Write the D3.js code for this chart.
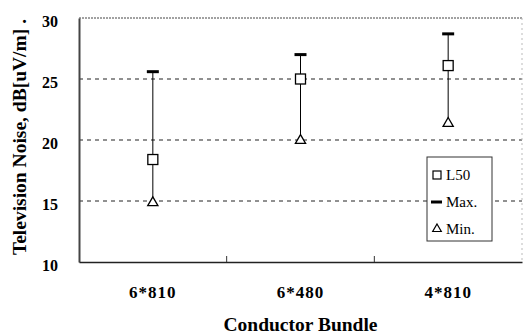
<!DOCTYPE html>
<html><head><meta charset="utf-8">
<script src="https://cdn.jsdelivr.net/npm/d3@7"></script>
<style>body{margin:0;background:#fff}svg{display:block}</style>
</head><body>
<script>
const categories = ["6*810", "6*480", "4*810"];
const l50Values = [18.4, 25.0, 26.1];
const maxValues = [25.6, 27.0, 28.7];
const minValues = [14.9, 20.0, 21.4];
const yTicks = [10, 15, 20, 25, 30];
const legendLabels = ["L50", "Max.", "Min."];

const W = 523, H = 335;
const m = {left: 79, right: 522, top: 18, bottom: 262};
const svg = d3.select("body").append("svg").attr("width", W).attr("height", H);
const serif = "'Liberation Serif','Times New Roman',serif";

const x = d3.scaleBand().domain(categories).range([m.left, m.right]);
const y = d3.scaleLinear().domain([10, 30]).range([m.bottom, m.top]);

// grid lines
svg.append("g").selectAll("line").data([15, 20, 25]).join("line")
  .attr("x1", m.left).attr("x2", m.right)
  .attr("y1", d => y(d)).attr("y2", d => y(d))
  .attr("stroke", "#222").attr("stroke-width", 1).attr("stroke-dasharray", "4,4");
// top and right borders (dotted)
svg.append("line").attr("x1", m.left).attr("x2", m.right).attr("y1", y(30)).attr("y2", y(30))
  .attr("stroke", "#444").attr("stroke-dasharray", "2,1");
svg.append("line").attr("x1", m.right).attr("x2", m.right).attr("y1", m.top).attr("y2", m.bottom)
  .attr("stroke", "#bbb").attr("stroke-dasharray", "2,3");

// y axis
const yAxis = svg.append("g").attr("transform", `translate(${m.left},0)`)
  .call(d3.axisLeft(y).tickValues(yTicks).tickSize(0).tickPadding(21));
yAxis.select(".domain").attr("stroke", "#444").attr("stroke-width", 2);
yAxis.selectAll("text").attr("font-family", serif).attr("font-weight", "bold")
  .attr("font-size", 16).attr("fill", "#000").attr("dy", "0.5em");

// x axis
const xAxis = svg.append("g").attr("transform", `translate(0,${m.bottom})`)
  .call(d3.axisBottom(x).tickSize(0).tickPadding(24));
xAxis.select(".domain").attr("stroke", "#222").attr("stroke-width", 1.5);
xAxis.selectAll("text").attr("font-family", serif).attr("font-weight", "bold")
  .attr("font-size", 17).attr("fill", "#000").attr("letter-spacing", "1px");
// inner ticks at band boundaries
svg.append("g").selectAll("line").data(categories.slice(1)).join("line")
  .attr("x1", d => x(d)).attr("x2", d => x(d))
  .attr("y1", m.bottom).attr("y2", m.bottom - 6)
  .attr("stroke", "#333").attr("stroke-width", 1);

// axis titles
svg.append("text").attr("x", x(categories[1]) + x.bandwidth() / 2).attr("y", 331)
  .attr("text-anchor", "middle").attr("font-family", serif).attr("font-weight", "bold")
  .attr("font-size", 19.5).text("Conductor Bundle");
svg.append("text").attr("transform", `translate(26,${137}) rotate(-90)`)
  .attr("text-anchor", "middle").attr("font-family", serif).attr("font-weight", "bold")
  .attr("font-size", 19.5).text("Television Noise, dB[uV/m] .");

const cx = i => x(categories[i]) + x.bandwidth() / 2;
const idx = categories.map((c, i) => i);

// error lines
svg.append("g").selectAll("line").data(idx).join("line")
  .attr("x1", cx).attr("x2", cx)
  .attr("y1", i => y(maxValues[i])).attr("y2", i => y(minValues[i]))
  .attr("stroke", "#000").attr("stroke-width", 1);
// max markers
svg.append("g").selectAll("line").data(idx).join("line")
  .attr("x1", i => cx(i) - 6).attr("x2", i => cx(i) + 6)
  .attr("y1", i => y(maxValues[i])).attr("y2", i => y(maxValues[i]))
  .attr("stroke", "#000").attr("stroke-width", 3);
// min triangles
const tri = d3.symbol().type(d3.symbolTriangle).size(45);
svg.append("g").selectAll("path").data(idx).join("path")
  .attr("d", tri).attr("transform", i => `translate(${cx(i)},${y(minValues[i]) + 0.5})`)
  .attr("fill", "#fff").attr("stroke", "#000").attr("stroke-width", 1.3);
// L50 squares
svg.append("g").selectAll("rect").data(idx).join("rect")
  .attr("x", i => cx(i) - 5).attr("y", i => y(l50Values[i]) - 5)
  .attr("width", 10).attr("height", 10)
  .attr("fill", "#fff").attr("stroke", "#000").attr("stroke-width", 1.3);

// legend
const lg = svg.append("g").attr("transform", "translate(427,157)");
lg.append("rect").attr("width", 65).attr("height", 84)
  .attr("fill", "#fff").attr("stroke", "#333").attr("stroke-width", 1);
const rowY = [18, 45, 72];
lg.append("rect").attr("x", 6).attr("y", rowY[0] - 4).attr("width", 8).attr("height", 8)
  .attr("fill", "#fff").attr("stroke", "#000").attr("stroke-width", 1.2);
lg.append("line").attr("x1", 4).attr("x2", 15).attr("y1", rowY[1]).attr("y2", rowY[1])
  .attr("stroke", "#000").attr("stroke-width", 3);
lg.append("path").attr("d", d3.symbol().type(d3.symbolTriangle).size(32))
  .attr("transform", `translate(10,${rowY[2]})`)
  .attr("fill", "#fff").attr("stroke", "#000").attr("stroke-width", 1.2);
lg.selectAll("text.l").data(legendLabels).join("text").attr("class", "l")
  .attr("x", 19).attr("y", (d, i) => rowY[i] + 5)
  .attr("font-family", serif).attr("font-size", 15).text(d => d);
</script>
</body></html>
